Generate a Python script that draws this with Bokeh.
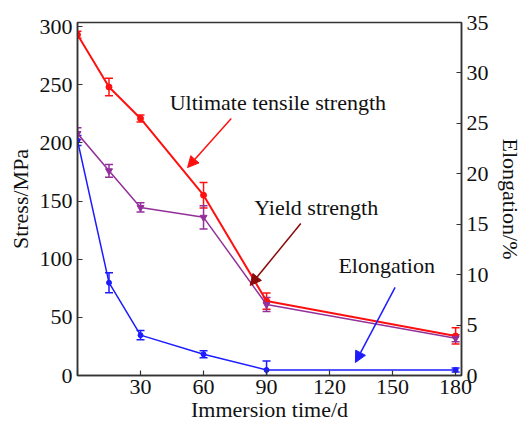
from bokeh.plotting import figure
from bokeh.models import (Range1d, LinearAxis, Whisker, ColumnDataSource, Arrow,
                          NormalHead, TeeHead, Label, FixedTicker)
from bokeh.embed import file_html
from bokeh.resources import INLINE

days = [0, 15, 30, 60, 90, 180]
uts = [293, 248, 221, 155, 64, 34]
uts_err = [3, 7.5, 3, 11, 7, 7]
ys = [208, 176, 144.5, 136, 61, 32]
ys_err = [5, 5.5, 4, 10, 6, 3]
elong = [23.3, 9.2, 4.0, 2.1, 0.55, 0.55]
elong_err = [0.5, 1.0, 0.45, 0.35, 0.9, 0.2]

x_ticks = [0, 30, 60, 90, 120, 150, 180]
stress_ticks = [0, 50, 100, 150, 200, 250, 300]
elong_ticks = [0, 5, 10, 15, 20, 25, 30, 35]

FONT = "Liberation Serif"
RED = "#ff1010"
PURPLE = "#93309a"
BLUE = "#1c1cff"
DARKRED = "#8b0a0a"
AX = "#333333"

p = figure(width=525, height=430, output_backend="svg", toolbar_location=None,
           x_range=Range1d(0, 182.8), y_range=Range1d(0, 303.5),
           min_border_left=77, min_border_right=61, min_border_top=22, min_border_bottom=55)
p.extra_y_ranges = {"el": Range1d(0, 35)}
p.xgrid.visible = False
p.ygrid.visible = False
p.outline_line_color = AX
p.outline_line_width = 1.5
p.background_fill_color = "white"
p.border_fill_color = "white"

def style_axis(ax, ticks):
    ax.ticker = FixedTicker(ticks=ticks)
    ax.axis_line_color = AX
    ax.axis_line_width = 1.5
    ax.major_tick_line_color = AX
    ax.major_tick_line_width = 1.2
    ax.major_tick_in = 5
    ax.major_tick_out = 0
    ax.minor_tick_line_color = None
    ax.major_label_text_font = FONT
    ax.major_label_text_font_size = "22px"
    ax.major_label_text_color = "#111111"
    ax.major_label_standoff = 5
    ax.axis_label_text_font = FONT
    ax.axis_label_text_font_size = "22px"
    ax.axis_label_text_font_style = "normal"
    ax.axis_label_text_color = "#111111"

xax = p.xaxis[0]
style_axis(xax, x_ticks)
xax.major_label_overrides = {0: ""}
xax.major_label_standoff = 4
xax.axis_label = "Immersion time/d"
xax.axis_label_standoff = 0

yax = p.yaxis[0]
style_axis(yax, stress_ticks)
yax.axis_label = "Stress/MPa"
yax.axis_label_standoff = 4

rax = LinearAxis(y_range_name="el")
style_axis(rax, elong_ticks)
rax.axis_label = "Elongation/%"
rax.axis_label_standoff = 6
p.add_layout(rax, "right")

def series(vals, errs, color, marker, size, lw, rng="default"):
    src = ColumnDataSource(dict(x=days, y=vals,
                                lo=[v - e for v, e in zip(vals, errs)],
                                hi=[v + e for v, e in zip(vals, errs)]))
    p.line("x", "y", source=src, line_color=color, line_width=lw, y_range_name=rng)
    w = Whisker(base="x", lower="lo", upper="hi", source=src, dimension="height",
                line_color=color, line_width=1.5,
                upper_head=TeeHead(size=8, line_color=color, line_width=1.5),
                lower_head=TeeHead(size=8, line_color=color, line_width=1.5))
    w.y_range_name = rng
    p.add_layout(w)
    p.scatter("x", "y", source=src, marker=marker, size=size, fill_color=color,
              line_color=color, y_range_name=rng)

series(uts, uts_err, RED, "circle", 6, 2)
series(ys, ys_err, PURPLE, "inverted_triangle", 7, 1.5)
series(elong, elong_err, BLUE, "circle", 5, 1.5, rng="el")

def arrow(x0, y0, x1, y1, color):
    p.add_layout(Arrow(x_start=x0, y_start=y0, x_end=x1, y_end=y1, line_color=color,
                       line_width=1.5,
                       end=NormalHead(size=11, fill_color=color, line_color=color, line_width=1)))

arrow(73.2, 221, 52.4, 178.8, RED)
arrow(106.3, 130.7, 82.2, 77.4, DARKRED)
arrow(151.2, 75.7, 132.3, 11.2, BLUE)

def label(x, y, t, **kw):
    args = dict(x=x, y=y, text=t, text_font=FONT, text_font_size="22px",
                text_color="#111111", text_align="left", text_baseline="middle")
    args.update(kw)
    p.add_layout(Label(**args))

label(43.9, 234.7, "Ultimate tensile strength")
label(84.1, 144.5, "Yield strength")
label(124.2, 94.6, "Elongation")

open("out.html", "w").write(file_html(p, INLINE))
